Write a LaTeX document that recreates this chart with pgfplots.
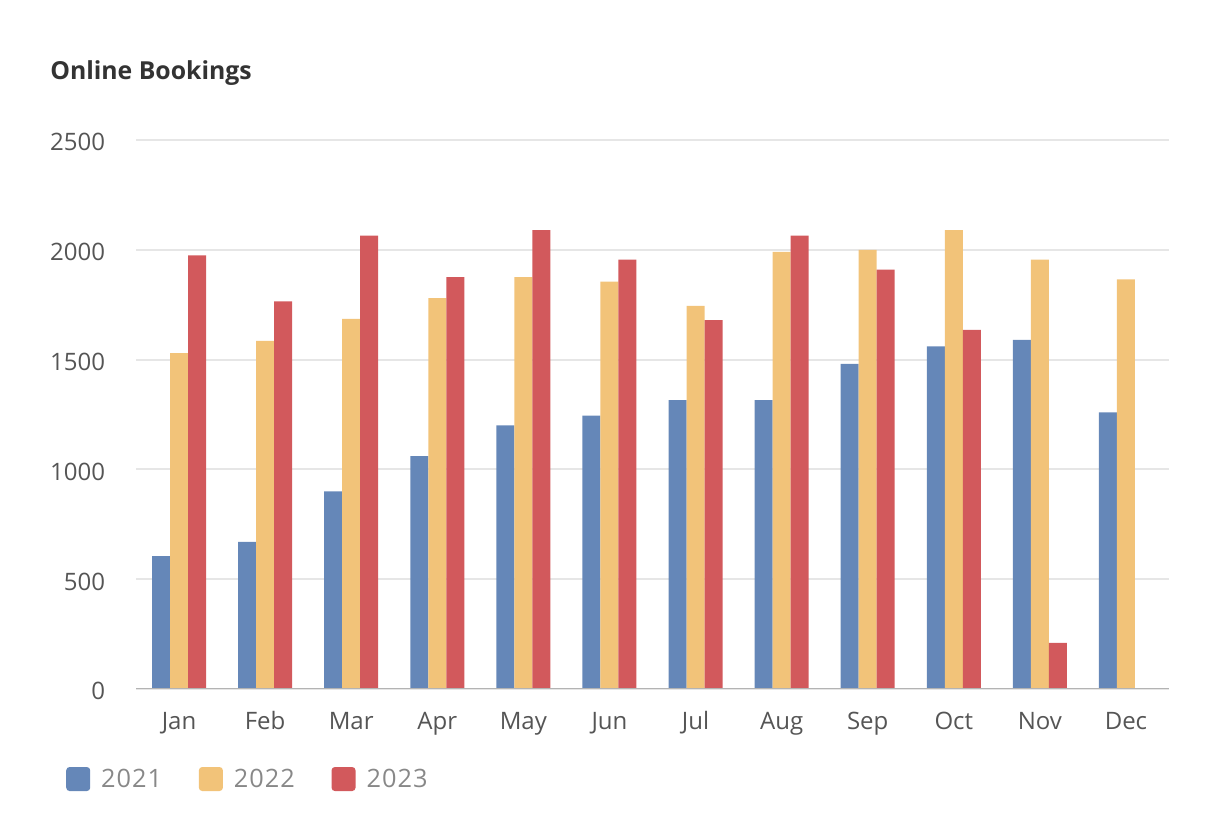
\documentclass[border=0pt]{standalone}
\usepackage{fontspec}
\setmainfont{Open Sans}
\usepackage{pgfplots}
\pgfplotsset{compat=1.18}
\definecolor{c21}{HTML}{6587B8}
\definecolor{c22}{HTML}{F2C379}
\definecolor{c23}{HTML}{D2595C}
\definecolor{gridc}{HTML}{E6E6E6}
\definecolor{axisc}{HTML}{B3B3B3}
\definecolor{tickc}{HTML}{555555}
\definecolor{legc}{HTML}{888888}
\definecolor{titc}{HTML}{333333}
\pgfplotstableread{
x y21 y22 y23
0 605 1530 1975
1 670 1585 1765
2 900 1685 2065
3 1060 1780 1875
4 1200 1875 2090
5 1245 1855 1955
6 1315 1745 1680
7 1315 1990 2065
8 1480 2000 1910
9 1560 2090 1635
10 1590 1955 210
11 1260 1865 nan
}\datatable
\begin{document}
\begin{tikzpicture}[x=1pt,y=1pt]
\useasboundingbox (0,0) rectangle (915,615);
\node[anchor=base west, font=\fontsize{18.6}{22}\selectfont\bfseries, text=titc, inner sep=0] at (37.5,555) {Online Bookings};
\begin{axis}[
  at={(102pt,98.25pt)}, anchor=south west,
  scale only axis, width=774.75pt, height=411.75pt,
  ybar=0pt, bar width=13.5pt,
  ymin=0, ymax=2500, xmin=-0.5, xmax=11.5,
  ytick={0,500,...,2500},
  xtick={0,...,11},
  xticklabels={Jan,Feb,Mar,Apr,May,Jun,Jul,Aug,Sep,Oct,Nov,Dec},
  axis line style={draw=none},
  major tick length=0pt,
  ymajorgrids, grid style={gridc, line width=1.5pt},
  /pgf/number format/1000 sep={},
  /pgf/number format/assume math mode=true,
  yticklabel style={font=\fontsize{18}{20}\selectfont, text=tickc, anchor=east, inner sep=0pt, xshift=-23pt, yshift=-1.8pt},
  xticklabel style={font=\fontsize{18}{20}\selectfont, text=tickc, anchor=base, inner sep=0pt, yshift=-30.75pt},
  legend style={draw=none, fill=none, at={(axis description cs:-0.0678,-0.1640)}, anchor=west,
    legend columns=-1, inner sep=0pt,
    nodes={inner sep=0pt, font=\fontsize{19}{22}\selectfont\addfontfeature{LetterSpace=4}, text=legc},
    /tikz/every odd column/.append style={column sep=8.25pt},
    /tikz/every even column/.append style={column sep=27.5pt}},
  unbounded coords=discard,
]
\addplot[fill=c21, draw=none, legend image code/.code={\fill[c21, rounded corners=2.5pt] (0pt,-9pt) rectangle (18pt,9pt);}] table[x=x,y=y21] {\datatable};
\addplot[fill=c22, draw=none, legend image code/.code={\fill[c22, rounded corners=2.5pt] (0pt,-9pt) rectangle (18pt,9pt);}] table[x=x,y=y22] {\datatable};
\addplot[fill=c23, draw=none, legend image code/.code={\fill[c23, rounded corners=2.5pt] (0pt,-9pt) rectangle (18pt,9pt);}] table[x=x,y=y23] {\datatable};
\legend{2021,2022,2023}
\draw[axisc, line width=1.5pt] (rel axis cs:0,0) -- (rel axis cs:1,0);
\end{axis}
\end{tikzpicture}
\end{document}
